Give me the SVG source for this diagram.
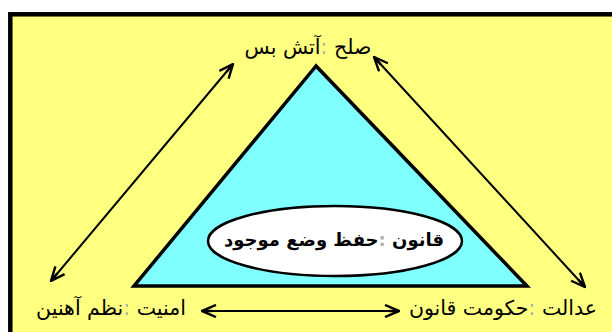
<svg xmlns="http://www.w3.org/2000/svg" width="612" height="332" viewBox="0 0 612 332">
  <style>
    .lbl { font-family: "DejaVu Sans", "Noto Sans", sans-serif; font-size: 20.5px; fill: #000; }
    .bold { font-weight: bold; font-size: 18px; }
    .sep { fill: #b0b0b0; }
    .conn { stroke: #000; stroke-width: 2; fill: none; }
  </style>
  <defs>
    <marker id="arr" viewBox="0 0 16 14" refX="15" refY="7" markerWidth="16" markerHeight="14" markerUnits="userSpaceOnUse" orient="auto-start-reverse">
      <path d="M1,1 L15,7 L1,13 M5,7 L15,7" fill="none" stroke="#000" stroke-width="2.4" stroke-linejoin="miter"/>
    </marker>
  </defs>
  <rect x="0" y="0" width="612" height="332" fill="#ffffff"/>
  <rect id="frame" x="10.3" y="14.3" width="620" height="340" fill="#ffff80" stroke="#000" stroke-width="4.5"/>

  <g id="triangle">
    <polygon points="316,66 134,286 527,286" fill="#80ffff" stroke="#000" stroke-width="3.5" stroke-linejoin="miter"/>
  </g>
  <g id="ellipse-node">
    <ellipse cx="335" cy="241" rx="127" ry="35" fill="#ffffff" stroke="#000" stroke-width="2.5"/>
    <text class="lbl bold" x="334" y="246" text-anchor="middle" direction="rtl">قانون <tspan class="sep">:</tspan>حفظ وضع موجود</text>
  </g>
  <g id="top-node">
    <text class="lbl" x="308" y="54" text-anchor="middle" direction="rtl">صلح <tspan class="sep">:</tspan>آتش بس</text>
  </g>
  <g id="left-node">
    <text class="lbl" x="111" y="315" text-anchor="middle" direction="rtl">امنیت <tspan class="sep">:</tspan>نظم آهنین</text>
  </g>
  <g id="right-node">
    <text class="lbl" x="503" y="315" text-anchor="middle" direction="rtl">عدالت <tspan class="sep">:</tspan>حکومت قانون</text>
  </g>

  <g id="connectors">
    <line class="conn" x1="233" y1="64" x2="51" y2="281" marker-start="url(#arr)" marker-end="url(#arr)"/>
    <line class="conn" x1="374" y1="57" x2="585" y2="287" marker-start="url(#arr)" marker-end="url(#arr)"/>
    <line class="conn" x1="202" y1="311" x2="399" y2="311" marker-start="url(#arr)" marker-end="url(#arr)"/>
  </g>
</svg>
